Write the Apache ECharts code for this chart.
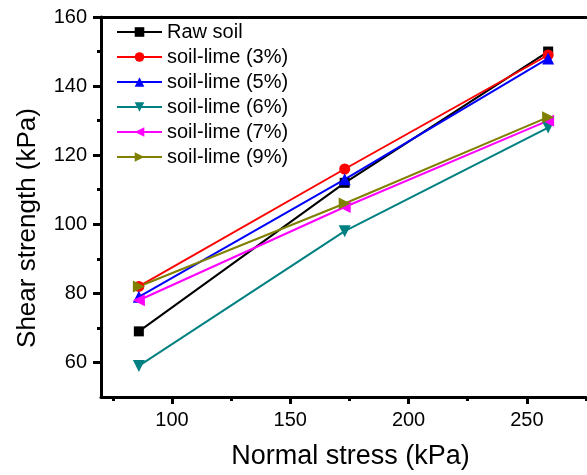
<!DOCTYPE html>
<html>
<head>
<meta charset="utf-8">
<script src="https://cdn.jsdelivr.net/npm/echarts@6/dist/echarts.min.js"></script>
<style>
  html, body { margin: 0; padding: 0; background: #fff; }
  #chart { width: 587px; height: 475px; }
</style>
</head>
<body>
<div id="chart"></div>
<script>
// normal stress (kPa)
var stress = [86, 173, 259]
// shear strength (kPa)
var rawSoil = [69, 112, 150]
var lime3 = [82, 116, 149]
var lime5 = [79, 113, 148]
var lime6 = [59, 98, 128]
var lime7 = [78, 105, 130]
var lime9 = [82, 106, 131]
// ticks
var xMajor = [100, 150, 200, 250]
var xMinor = [75, 125, 175, 225, 275]
var yMajor = [60, 80, 100, 120, 140, 160]
var yMinor = [70, 90, 110, 130, 150]

var font = 'Liberation Sans'

function pairs(ys) {
  return stress.map(function (x, i) { return [x, ys[i]] })
}

function makeSeries(name, ys, color, symbol, size, rotate) {
  return {
    name: name,
    type: 'line',
    xAxisIndex: 0,
    yAxisIndex: 0,
    data: pairs(ys),
    color: color,
    symbol: symbol,
    symbolSize: size,
    symbolRotate: rotate || 0,
    showAllSymbol: true,
    lineStyle: { width: 2, color: color },
    itemStyle: { color: color }
  }
}

var chart = echarts.init(document.getElementById('chart'))

var axisLine = { show: true, lineStyle: { color: '#000', width: 3 } }

chart.setOption({
  animation: false,
  textStyle: { fontFamily: font },
  grid: { left: 101, right: 1, top: 17, bottom: 77, containLabel: false },
  legend: {
    left: 116,
    top: 22,
    padding: 0,
    orient: 'vertical',
    itemWidth: 45,
    itemHeight: 12,
    itemGap: 5,
    textStyle: { fontSize: 20, color: '#000', fontFamily: font },
    data: ['Raw soil', 'soil-lime (3%)', 'soil-lime (5%)', 'soil-lime (6%)', 'soil-lime (7%)', 'soil-lime (9%)']
  },
  xAxis: [
    {
      type: 'value',
      position: 'bottom',
      min: 70,
      max: 275,
      name: 'Normal stress (kPa)',
      nameLocation: 'middle',
      nameGap: 46,
      nameTextStyle: { fontSize: 27, color: '#000', fontFamily: font, padding: [0, 0, 0, 14] },
      axisLine: axisLine,
      axisTick: { show: true, inside: false, length: 7, customValues: xMajor, lineStyle: { color: '#000', width: 3 } },
      axisLabel: { show: true, customValues: xMajor, margin: 13, fontSize: 20, color: '#000', fontFamily: font },
      splitLine: { show: false }
    },
    {
      type: 'value',
      position: 'bottom',
      min: 70,
      max: 275,
      axisLine: { show: false },
      axisTick: { show: true, inside: false, length: 4, customValues: xMinor, lineStyle: { color: '#000', width: 3 } },
      axisLabel: { show: false },
      splitLine: { show: false }
    },
    {
      type: 'value',
      position: 'top',
      min: 70,
      max: 275,
      axisLine: axisLine,
      axisTick: { show: false },
      axisLabel: { show: false },
      splitLine: { show: false }
    }
  ],
  yAxis: [
    {
      type: 'value',
      position: 'left',
      min: 50,
      max: 160,
      name: 'Shear strength (kPa)',
      nameLocation: 'middle',
      nameGap: 60,
      nameTextStyle: { fontSize: 26, color: '#000', fontFamily: font, padding: [0, 42, 0, 0] },
      axisLine: axisLine,
      axisTick: { show: true, inside: false, length: 8, customValues: yMajor, lineStyle: { color: '#000', width: 3 } },
      axisLabel: { show: true, customValues: yMajor, margin: 14, fontSize: 20, color: '#000', fontFamily: font },
      splitLine: { show: false }
    },
    {
      type: 'value',
      position: 'left',
      min: 50,
      max: 160,
      axisLine: { show: false },
      axisTick: { show: true, inside: false, length: 4, customValues: yMinor, lineStyle: { color: '#000', width: 3 } },
      axisLabel: { show: false },
      splitLine: { show: false }
    }
  ],
  series: [
    makeSeries('Raw soil', rawSoil, '#000000', 'rect', 10),
    makeSeries('soil-lime (3%)', lime3, '#ff0000', 'circle', 11),
    makeSeries('soil-lime (5%)', lime5, '#0000ff', 'triangle', 12),
    makeSeries('soil-lime (6%)', lime6, '#008080', 'triangle', 12, 180),
    makeSeries('soil-lime (7%)', lime7, '#ff00ff', 'triangle', 12, 90),
    makeSeries('soil-lime (9%)', lime9, '#808000', 'triangle', 12, -90)
  ]
})
</script>
</body>
</html>
